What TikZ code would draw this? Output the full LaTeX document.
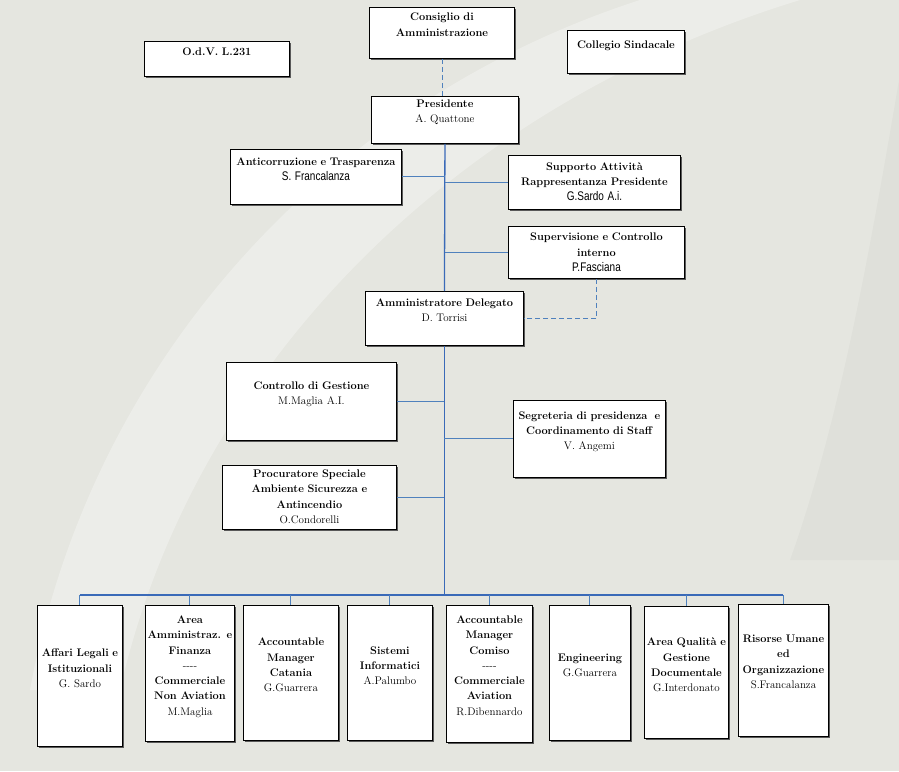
\documentclass[tikz,border=0pt]{standalone}
\usepackage{fontspec}
\newfontfamily\narrowsans[FakeStretch=0.8]{Liberation Sans}
\newcommand{\nsname}[1]{{\narrowsans\fontsize{12.5}{15.3}\selectfont #1}}
\usetikzlibrary{shadows}
\definecolor{linkblue}{RGB}{79,129,189}
\definecolor{busblue}{RGB}{58,106,184}
\definecolor{paper}{RGB}{229,230,224}

\begin{document}
\begin{tikzpicture}[x=1pt, y=-1pt,
    unit/.style={draw=black, line width=0.9pt, fill=white, anchor=north west,
        inner sep=0pt, align=center, font=\fontsize{11}{15.3}\selectfont,
        drop shadow={shadow xshift=1.3pt, shadow yshift=-1.3pt, fill=black!65, opacity=1}},
    link/.style={draw=linkblue, line width=1pt},
    trunk/.style={draw=busblue, line width=1.3pt},
    dashlink/.style={draw=linkblue, line width=0.9pt, dash pattern=on 5pt off 3pt}]

    % Background
    \fill[paper] (0,0) rectangle (899,771);
    \fill[white, opacity=0.3] (30,690) .. controls (90,360) and (330,100) .. (640,0)
        -- (800,0) .. controls (440,110) and (190,380) .. (120,690) -- cycle;
    \fill[black, opacity=0.025] (899,80) .. controls (870,250) and (840,420) .. (790,560)
        -- (899,560) -- cycle;
    \useasboundingbox (0,0) rectangle (899,771);

    % Top level
    \node[unit, text width=145pt, text height=13.4pt, text depth=37.6pt] (cda) at (369,7)
        {\textbf{Consiglio di}\\\textbf{Amministrazione}};
    \node[unit, text width=145pt, text height=14pt, text depth=21pt] (odv) at (144,41)
        {\textbf{O.d.V. L.231}};
    \node[unit, text width=117pt, text height=17.7pt, text depth=25.3pt] (cs) at (567,30)
        {\textbf{Collegio Sindacale}};
    \node[unit, text width=147pt, text height=11pt, text depth=36pt] (pres) at (371,96)
        {\textbf{Presidente}\\A. Quattone};

    % Staff of Presidente
    \node[unit, text width=171pt, text height=15.7pt, text depth=39.3pt] (anti) at (230,149)
        {\textbf{Anticorruzione e Trasparenza}\\\nsname{S. Francalanza}};
    \node[unit, text width=172pt, text height=14.7pt, text depth=39.3pt] (supp) at (508,155)
        {\textbf{Supporto Attività}\\\textbf{Rappresentanza Presidente}\\\nsname{G.Sardo A.i.}};
    \node[unit, text width=176pt, text height=14.4pt, text depth=37.6pt] (superv) at (508,226)
        {\textbf{Supervisione e Controllo}\\\textbf{interno}\\\nsname{P.Fasciana}};
    \node[unit, text width=158pt, text height=15pt, text depth=39pt] (ad) at (365,291)
        {\textbf{Amministratore Delegato}\\D. Torrisi};

    % Staff of Amministratore Delegato
    \node[unit, text width=170pt, text height=26.7pt, text depth=51.3pt] (ctrl) at (226,362)
        {\textbf{Controllo di Gestione}\\M.Maglia A.I.};
    \node[unit, text width=152pt, text height=18.7pt, text depth=58.3pt] (segr) at (513,400)
        {\textbf{Segreteria di presidenza\ \ e}\\\textbf{Coordinamento di Staff}\\V. Angemi};
    \node[unit, text width=174pt, text height=12pt, text depth=52pt] (proc) at (222,465)
        {\textbf{Procuratore Speciale}\\\textbf{Ambiente Sicurezza e}\\\textbf{Antincendio}\\O.Condorelli};

    % Areas
    \node[unit, text width=85pt, text height=51.4pt, text depth=89.6pt] (legal) at (37,605)
        {\textbf{Affari Legali e}\\\textbf{Istituzionali}\\G. Sardo};
    \node[unit, text width=89pt, text height=18pt, text depth=118pt] (admin) at (145,605)
        {\textbf{Area}\\\textbf{Amministraz. e}\\\textbf{Finanza}\\{-}{-}{-}{-}\\\textbf{Commerciale}\\\textbf{Non Aviation}\\M.Maglia};
    \node[unit, text width=95pt, text height=40.4pt, text depth=94.6pt] (cta) at (243,605)
        {\textbf{Accountable}\\\textbf{Manager}\\\textbf{Catania}\\G.Guarrera};
    \node[unit, text width=85pt, text height=48.7pt, text depth=86.3pt] (it) at (347,605)
        {\textbf{Sistemi}\\\textbf{Informatici}\\A.Palumbo};
    \node[unit, text width=86pt, text height=18pt, text depth=119pt] (cis) at (446,605)
        {\textbf{Accountable}\\\textbf{Manager}\\\textbf{Comiso}\\{-}{-}{-}{-}\\\textbf{Commerciale}\\\textbf{Aviation}\\R.Dibennardo};
    \node[unit, text width=81pt, text height=56pt, text depth=79pt] (eng) at (549,605)
        {\textbf{Engineering}\\G.Guarrera};
    \node[unit, text width=84pt, text height=39.4pt, text depth=92.6pt] (qual) at (644,606)
        {\textbf{Area Qualità e}\\\textbf{Gestione}\\\textbf{Documentale}\\G.Interdonato};
    \node[unit, text width=90pt, text height=38pt, text depth=94pt] (hr) at (738,604)
        {\textbf{Risorse Umane}\\\textbf{ed}\\\textbf{Organizzazione}\\S.Francalanza};

    % Connectors
    \draw[dashlink] (cda.south) -- (cda.south |- pres.north);
    \draw[trunk] (pres.south) -- (ad.north);
    \foreach \n in {anti,supp,superv} {
        \draw[link] (\n) -- (\n -| pres.south);
    }
    \draw[dashlink] (superv.south) |- (ad.east);

    \coordinate (bus) at (444,595);
    \draw[trunk] (ad.south) -- (ad.south |- bus);
    \foreach \n in {ctrl,segr,proc} {
        \draw[link] (\n) -- (\n -| ad.south);
    }
    \draw[trunk] (legal.north |- bus) -- (hr.north |- bus);
    \foreach \n in {legal,admin,cta,it,cis,eng,qual,hr} {
        \draw[link] (\n.north |- bus) -- (\n.north);
    }
\end{tikzpicture}
\end{document}
